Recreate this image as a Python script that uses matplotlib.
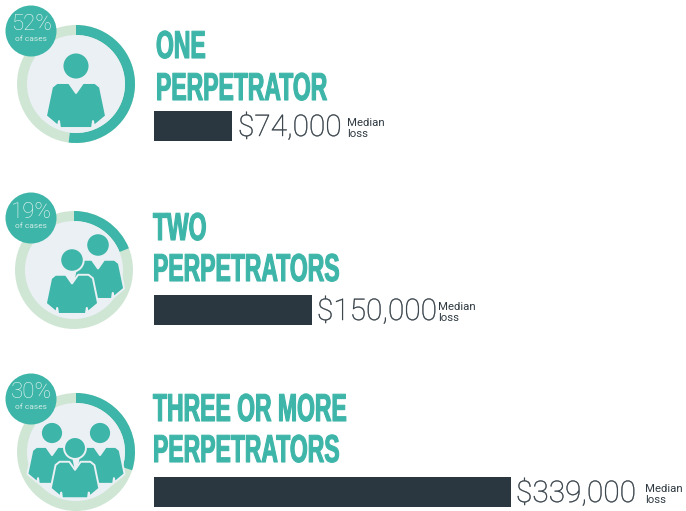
import matplotlib
matplotlib.use('Agg')
import matplotlib.pyplot as plt
from matplotlib.patches import Circle, Wedge, Polygon
from matplotlib.patheffects import AbstractPathEffect
from matplotlib.transforms import Affine2D

# Values
line1 = ['ONE', 'TWO', 'THREE OR MORE']
line2 = ['PERPETRATOR', 'PERPETRATORS', 'PERPETRATORS']
shares = [52, 19, 30]
losses = [74000, 150000, 339000]
share_note = 'of cases'
loss_note = ['Median', 'loss']

TEAL = '#3db5a8'
PALE = '#cfe6d5'
DISC = '#ebf0f4'
DARK = '#2a3740'
TEXT = '#2f3a42'

PX_PER_DOLLAR = 357 / 339000

# Row layout in pixels
ring_xy = [(76, 84), (74, 270), (76, 452)]
badge_xy = [(31, 31), (31, 218), (31, 399)]
title_x = [156, 153, 153]
title_base = [(58, 100), (240, 281), (421, 462)]
bar_y = [126, 310, 492]
value_x = [238, 317, 516]
note_x = [347, 438, 645]
# head x, head y, scale for each person, drawn back to front
people = [
    [(76, 66, 1.0)],
    [(98, 245, 0.87), (72, 260, 0.87)],
    [(52, 433, 0.82), (100, 433, 0.82), (75, 448, 0.81)],
]


# Real text, squeezed sideways so it looks like a condensed poster face
class Squeeze(AbstractPathEffect):
    def __init__(self, sx, x0, stroke=0):
        super().__init__()
        self.sx = sx
        self.x0 = x0
        self.stroke = stroke

    def draw_path(self, renderer, gc, tpath, affine, rgbFace=None):
        squeeze = Affine2D().translate(-self.x0, 0).scale(self.sx, 1).translate(self.x0, 0)
        gc0 = renderer.new_gc()
        gc0.copy_properties(gc)
        if self.stroke:
            gc0.set_foreground(rgbFace)
            gc0.set_linewidth(self.stroke)
        else:
            gc0.set_linewidth(0)
        renderer.draw_path(gc0, tpath, affine + squeeze, rgbFace)
        gc0.restore()


def draw_person(ax, cx, cy, s, z):
    ax.add_patch(Circle((cx, cy), 13.5 * s, fc=TEAL, ec=DISC, lw=1.4, zorder=z))
    half = [(0, 27), (7, 17), (19, 17), (24, 21), (30, 50), (18, 60), (17, 55), (16, 62)]
    right = [(cx + x * s, cy + y * s) for x, y in half]
    left = [(cx - x * s, cy + y * s) for x, y in half[1:]][::-1]
    ax.add_patch(Polygon(right + left, closed=True, fc=TEAL, ec=DISC, lw=1.4,
                         joinstyle='round', zorder=z))


def draw_title(ax, x, y, s):
    ax.text(x, y, s, color=TEAL, fontsize=28, family='Liberation Sans', weight='bold',
            va='baseline', ha='left', path_effects=[Squeeze(0.59, x, stroke=0.8)], zorder=5)


fig = plt.figure(figsize=(6.86, 5.11), dpi=100)
ax = fig.add_axes([0, 0, 1, 1])
ax.set_xlim(0, 686)
ax.set_ylim(511, 0)
ax.axis('off')

for i in range(3):
    cx, cy = ring_xy[i]
    # ring starts at 12 o'clock and goes clockwise (y axis is flipped)
    ax.add_patch(Circle((cx, cy), 59, fc=PALE, ec='none', zorder=1))
    ax.add_patch(Wedge((cx, cy), 59, -90, -90 + 3.6 * shares[i], width=10, fc=TEAL, ec='none', zorder=2))
    ax.add_patch(Circle((cx, cy), 49, fc=DISC, ec='none', zorder=2))

    for n, (hx, hy, s) in enumerate(people[i]):
        draw_person(ax, hx, hy, s, 3 + n * 0.1)

    bx, by = badge_xy[i]
    ax.add_patch(Circle((bx, by), 25.5, fc=TEAL, ec='none', zorder=4))
    ax.text(bx, by - 6, f'{shares[i]}%', color='#e8f6f3', fontsize=16, family='Roboto', weight='light',
            ha='center', va='center', zorder=5)
    ax.text(bx, by + 8, share_note, color='#cfeae5', fontsize=6, family='Roboto',
            ha='center', va='center', zorder=5)

    draw_title(ax, title_x[i], title_base[i][0], line1[i])
    draw_title(ax, title_x[i], title_base[i][1], line2[i])

    # bar for the median loss
    bar_w = losses[i] * PX_PER_DOLLAR
    ax.barh(bar_y[i], bar_w, height=30, left=154, color=DARK, zorder=3)
    ax.text(value_x[i], bar_y[i] + 10, f'${losses[i]:,}', color=TEXT, fontsize=21.5,
            family='Roboto', weight='light', ha='left', va='baseline',
            path_effects=[Squeeze(1, value_x[i], stroke=0.3)], zorder=5)
    ax.text(note_x[i], bar_y[i], loss_note[0], color=TEXT, fontsize=8.2, family='Roboto',
            ha='left', va='baseline', zorder=5)
    ax.text(note_x[i], bar_y[i] + 11, loss_note[1], color=TEXT, fontsize=8.2, family='Roboto',
            ha='left', va='baseline', zorder=5)

fig.savefig('out.png', dpi=100, facecolor='white')
